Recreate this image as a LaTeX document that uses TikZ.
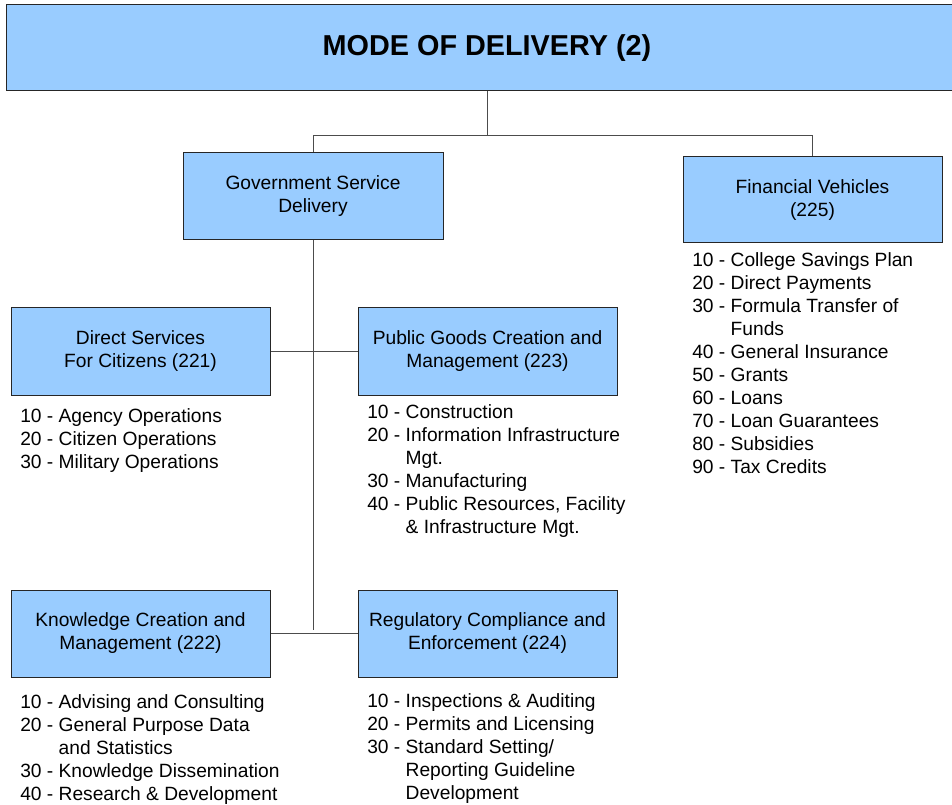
\documentclass[tikz,border=0pt]{standalone}
\usepackage{fontspec}
\setmainfont{Liberation Sans}
\usepackage{tikz}
\usetikzlibrary{positioning}
\definecolor{boxblue}{RGB}{153,204,255}
\tikzset{
    catbox/.style={
        draw=black!85,
        fill=boxblue,
        line width=0.75pt,
        align=center,
        inner sep=0pt,
        font=\fontsize{14.4}{17.25}\selectfont
    },
    codes/.style={
        anchor=base west,
        inner sep=0pt,
        font=\fontsize{14.4}{17.25}\selectfont
    },
    link/.style={
        draw=black!70,
        line width=0.75pt
    }
}
\newcommand{\codelist}[1]{\begin{tabular}[t]{@{}l@{\ }l}#1\end{tabular}}

\begin{document}
\begin{tikzpicture}[x=0.75pt, y=-0.75pt]
  \useasboundingbox (0,0) rectangle (952,805);
  \clip (0,0) rectangle (952,805);

  % Top of the hierarchy
  \node[catbox, minimum width=721.5pt, minimum height=64.5pt,
        font=\fontsize{21.6}{26}\selectfont\bfseries] (ttl) at (487,48) {MODE OF DELIVERY (2)};

  % Second level
  \node[catbox, minimum width=195pt, minimum height=65.25pt] (gsd) at (313,196.5) {Government Service\\Delivery};
  \node[catbox, minimum width=194.25pt, minimum height=64.5pt] (fv) at (812.5,200) {Financial Vehicles\\(225)};

  % Categories under government service delivery
  \node[catbox, minimum width=194.25pt, minimum height=65.25pt] (ds) at (140.5,351.5) {Direct Services\\For Citizens (221)};
  \node[catbox, minimum width=194.25pt, minimum height=65.25pt] (pg) at (487.5,351.5) {Public Goods Creation and\\Management (223)};
  \node[catbox, minimum width=194.25pt, minimum height=65.25pt] (kc) at (140.5,633.5) {Knowledge Creation and\\Management (222)};
  \node[catbox, minimum width=194.25pt, minimum height=65.25pt] (rc) at (487.5,633.5) {Regulatory Compliance and\\Enforcement (224)};

  % Connectors
  \coordinate (trunk) at (313,630);
  \draw[link] (ttl.south) -- ++(0,44) -| (gsd.north);
  \draw[link] (ttl.south) -- ++(0,44) -| (fv.north);
  \draw[link] (gsd.south) -- (trunk);
  \draw[link] (ds.east) -- (pg.west);
  \draw[link] (kc.east) -- (rc.west);

  % Sub-function lists
  \node[codes] (dslist) at (20,422) {\codelist{
    10 -& Agency Operations\\
    20 -& Citizen Operations\\
    30 -& Military Operations}};
  \node[codes] (pglist) at (367,418) {\codelist{
    10 -& Construction\\
    20 -& Information Infrastructure\\
       & Mgt.\\
    30 -& Manufacturing\\
    40 -& Public Resources, Facility\\
       & \& Infrastructure Mgt.}};
  \node[codes] (kclist) at (20,708) {\codelist{
    10 -& Advising and Consulting\\
    20 -& General Purpose Data\\
       & and Statistics\\
    30 -& Knowledge Dissemination\\
    40 -& Research \& Development}};
  \node[codes] (rclist) at (367,707) {\codelist{
    10 -& Inspections \& Auditing\\
    20 -& Permits and Licensing\\
    30 -& Standard Setting/\\
       & Reporting Guideline\\
       & Development}};
  \node[codes] (fvlist) at (692,267) {\codelist{
    10 -& College Savings Plan\\
    20 -& Direct Payments\\
    30 -& Formula Transfer of\\
       & Funds\\
    40 -& General Insurance\\
    50 -& Grants\\
    60 -& Loans\\
    70 -& Loan Guarantees\\
    80 -& Subsidies\\
    90 -& Tax Credits}};
\end{tikzpicture}
\end{document}
